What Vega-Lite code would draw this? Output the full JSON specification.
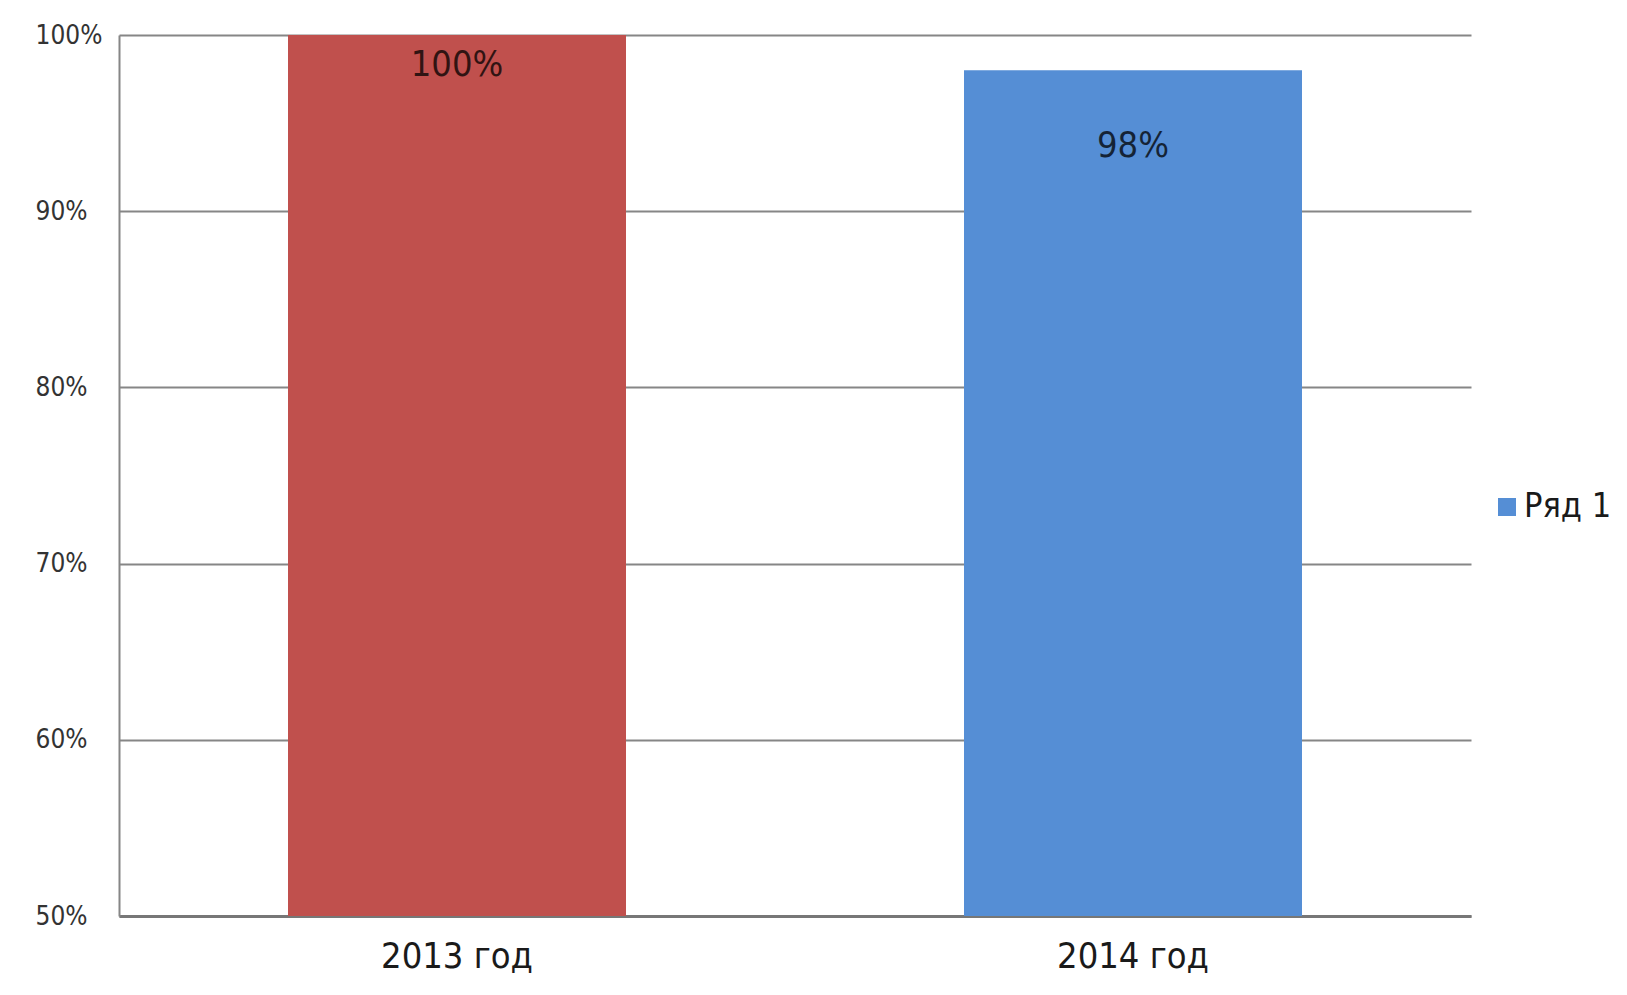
{
  "$schema": "https://vega.github.io/schema/vega-lite/v6.json",
  "autosize": {"type": "none"},
  "padding": {"left": 119, "top": 35, "right": 156, "bottom": 79},
  "width": 1352,
  "height": 881,
  "background": "white",
  "config": {
    "view": {"stroke": null},
    "font": "DejaVu Sans Condensed, DejaVu Sans"
  },
  "data": {
    "values": [
      {"year": "2013 год", "value": 1.0, "series": "Ряд 1"},
      {"year": "2014 год", "value": 0.98, "series": "Ряд 1"}
    ]
  },
  "encoding": {
    "x": {
      "field": "year", "type": "nominal", "sort": null,
      "scale": {"paddingInner": 0.5, "paddingOuter": 0.25},
      "axis": {"title": null, "labelAngle": 0, "ticks": false, "tickSize": 0, "domainColor": "#777777", "domainWidth": 3, "labelFontSize": 36, "labelPadding": 23, "labelColor": "#1a1a1a", "labelFont": "DejaVu Sans Condensed, DejaVu Sans"}
    },
    "y": {
      "field": "value", "type": "quantitative",
      "scale": {"domain": [0.5, 1], "zero": false, "nice": false},
      "axis": {"title": null, "values": [0.5, 0.6, 0.7, 0.8, 0.9, 1.0], "format": ".0%", "grid": true, "gridColor": "#868686", "gridWidth": 2, "domainColor": "#868686", "domainWidth": 2, "ticks": false, "tickSize": 0, "labelAlign": "left", "labelBaseline": "middle", "labelPadding": 84, "labelFontSize": 26, "labelColor": "#333333", "labelFont": "DejaVu Sans Condensed, DejaVu Sans"}
    }
  },
  "layer": [
    {
      "mark": {"type": "bar"},
      "encoding": {
        "y2": {"datum": 0.5},
        "color": {"field": "year", "type": "nominal", "scale": {"domain": ["2013 год", "2014 год"], "range": ["#C0504D", "#558ED5"]}, "legend": null}
      }
    },
    {
      "mark": {"type": "point", "opacity": 0, "filled": true},
      "encoding": {
        "fill": {"field": "series", "type": "nominal", "scale": {"range": ["#558ED5"]},
          "legend": {"title": null, "orient": "none", "legendX": 1371, "legendY": 455, "padding": 0, "symbolType": "square", "symbolSize": 324, "symbolOpacity": 1, "symbolStrokeWidth": 0, "labelFontSize": 34, "labelFont": "DejaVu Sans Condensed, DejaVu Sans", "labelColor": "#1a1a1a", "labelOffset": 0}}
      }
    },
    {
      "transform": [{"filter": "datum.year === '2013 год'"}],
      "mark": {"type": "text", "baseline": "middle", "dy": 30, "fontSize": 36, "font": "DejaVu Sans Condensed, DejaVu Sans", "color": "black", "opacity": 0.75},
      "encoding": {"text": {"field": "value", "type": "quantitative", "format": ".0%"}}
    },
    {
      "transform": [{"filter": "datum.year === '2014 год'"}],
      "mark": {"type": "text", "baseline": "middle", "dy": 76, "fontSize": 36, "font": "DejaVu Sans Condensed, DejaVu Sans", "color": "black", "opacity": 0.75},
      "encoding": {"text": {"field": "value", "type": "quantitative", "format": ".0%"}}
    }
  ]
}
